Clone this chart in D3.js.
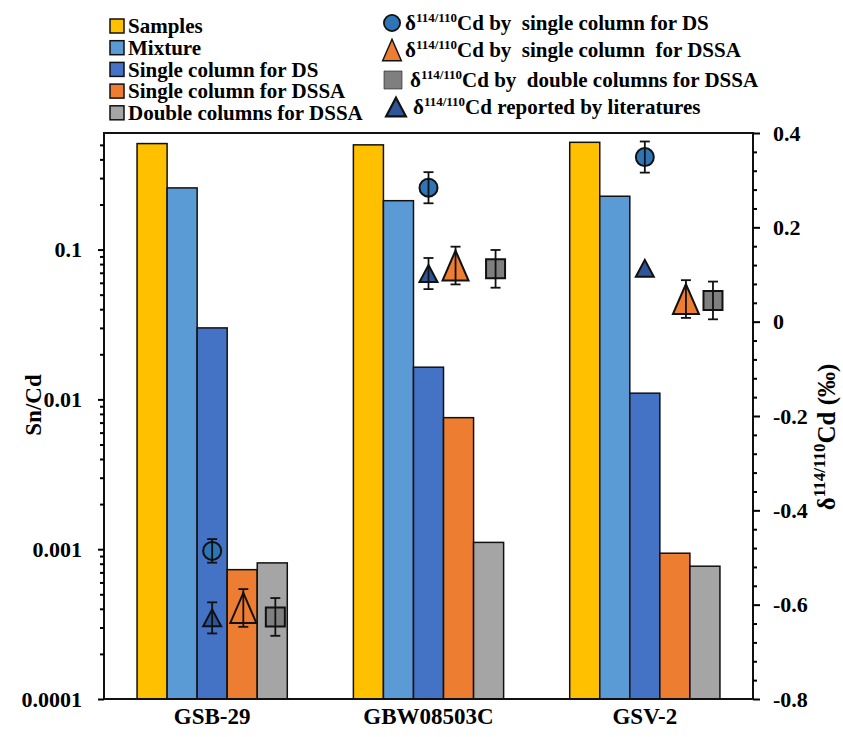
<!DOCTYPE html>
<html>
<head>
<meta charset="utf-8">
<script src="https://cdn.jsdelivr.net/npm/d3@7"></script>
<style>
body { margin: 0; background: #fff; }
svg text { font-family: "Liberation Serif", "DejaVu Serif", "Noto Serif", serif !important; font-weight: bold; }
</style>
</head>
<body>
<svg id="chart"></svg>
<script>
// ---- data ----
const categories = ["GSB-29", "GBW08503C", "GSV-2"];
const barNames = ["Samples", "Mixture", "Single column for DS", "Single column for DSSA", "Double columns for DSSA"];

// Sn/Cd (left, log axis)
const samples    = [0.51, 0.50, 0.52];
const mixture    = [0.258, 0.212, 0.227];
const singleDS   = [0.030, 0.0164, 0.0110];
const singleDSSA = [0.00073, 0.00755, 0.00094];
const doubleDSSA = [0.00081, 0.00111, 0.00077];

// delta114/110Cd (right axis), x in category units
const dsDelta    = [-0.486, 0.284, 0.349];
const dsErr      = [0.025, 0.033, 0.033];
const dsX        = [0.5, 1.5, 2.5];
const dssaDelta  = [-0.607, 0.119, 0.048];
const dssaErr    = [0.04, 0.04, 0.04];
const dssaX      = [0.644, 1.625, 2.69];
const dblDelta   = [-0.626, 0.112, 0.045];
const dblErr     = [0.04, 0.04, 0.04];
const dblX       = [0.792, 1.81, 2.815];
const litDelta   = [-0.628, 0.102, 0.113];
const litErr     = [0.033, 0.033, null];
const litX       = [0.5, 1.5, 2.5];

const leftTicks  = [0.0001, 0.001, 0.01, 0.1];
const rightTicks = [-0.8, -0.6, -0.4, -0.2, 0, 0.2, 0.4];

const barColors = ["#FFC000", "#5B9BD5", "#4472C4", "#ED7D31", "#A5A5A5"];

const margin = {top: 133, right: 90, bottom: 38, left: 104},
    svgWidth = 843,
    svgHeight = 737,
    width = svgWidth - margin.left - margin.right,
    height = svgHeight - margin.top - margin.bottom;

const chart = d3.select("#chart")
    .attr("width", svgWidth)
    .attr("height", svgHeight);

const inner = chart.append("g")
    .attr("transform", "translate(" + margin.left + "," + margin.top + ")");

// scales
const x0 = d3.scaleBand().domain(categories).range([0, width])
    .paddingInner(66 / 216).paddingOuter(33 / 216);
const x1 = d3.scaleBand().domain(d3.range(barNames.length)).range([0, x0.bandwidth()]);
const yLeft = d3.scaleLog().domain([0.0001, 0.6]).range([height, 0]);
const yRight = d3.scaleLinear().domain([-0.8, 0.4]).range([height, 0]);
const xDelta = d3.scaleLinear().domain([0, 3]).range([0, width]);

// bars
const barSeries = [samples, mixture, singleDS, singleDSSA, doubleDSSA];
const barData = [];
categories.forEach(function(c, i) {
    barSeries.forEach(function(s, j) {
        barData.push({cat: c, idx: j, value: s[i]});
    });
});

inner.append("g").selectAll("rect")
    .data(barData)
    .enter()
    .append("rect")
    .attr("x", d => x0(d.cat) + x1(d.idx))
    .attr("width", x1.bandwidth())
    .attr("y", d => yLeft(d.value))
    .attr("height", d => height - yLeft(d.value))
    .attr("fill", d => barColors[d.idx])
    .attr("stroke", "#111")
    .attr("stroke-width", 1.5);

// marker shapes
function markerPath(type) {
    if (type == "circle") return d3.symbol(d3.symbolCircle, Math.PI * 9 * 9)();
    if (type == "square") return "M-9.5,-9.5H9.5V9.5H-9.5Z";
    if (type == "bigTri") return "M0,-15L13,15L-13,15Z";
    return "M0,-8.5L9,8.5L-9,8.5Z";
}

const markerSeries = [
    {values: dsDelta,   err: dsErr,   xs: dsX,   type: "circle", fill: "#2E75B6"},
    {values: litDelta,  err: litErr,  xs: litX,  type: "smallTri", fill: "#2F5597"},
    {values: dssaDelta, err: dssaErr, xs: dssaX, type: "bigTri", fill: "#ED7D31"},
    {values: dblDelta,  err: dblErr,  xs: dblX,  type: "square", fill: "#7F7F7F"}
];

markerSeries.forEach(function(s) {
    const pts = s.values.map((v, i) => ({v: v, e: s.err[i], x: s.xs[i]}));
    const g = inner.append("g");
    g.selectAll("path.marker")
        .data(pts)
        .enter()
        .append("path")
        .attr("class", "marker")
        .attr("transform", d => "translate(" + xDelta(d.x) + "," + yRight(d.v) + ")")
        .attr("d", markerPath(s.type))
        .attr("fill", s.fill)
        .attr("stroke", "#111")
        .attr("stroke-width", 2);

    // error bars drawn over the markers
    const eb = g.selectAll("g.err")
        .data(pts.filter(d => d.e != null))
        .enter()
        .append("g")
        .attr("class", "err")
        .attr("stroke", "#111")
        .attr("stroke-width", 1.8);
    eb.append("line")
        .attr("x1", d => xDelta(d.x)).attr("x2", d => xDelta(d.x))
        .attr("y1", d => yRight(d.v + d.e)).attr("y2", d => yRight(d.v - d.e));
    eb.append("line")
        .attr("x1", d => xDelta(d.x) - 5).attr("x2", d => xDelta(d.x) + 5)
        .attr("y1", d => yRight(d.v + d.e)).attr("y2", d => yRight(d.v + d.e));
    eb.append("line")
        .attr("x1", d => xDelta(d.x) - 5).attr("x2", d => xDelta(d.x) + 5)
        .attr("y1", d => yRight(d.v - d.e)).attr("y2", d => yRight(d.v - d.e));
});

// frame
inner.append("rect")
    .attr("width", width).attr("height", height)
    .attr("fill", "none").attr("stroke", "#111").attr("stroke-width", 2);

// left axis (log) with minor ticks
const leftMinor = [];
leftTicks.forEach(function(t) {
    for (let k = 2; k <= 9; k++) if (t * k < 0.6) leftMinor.push(t * k);
});
inner.append("g")
    .call(d3.axisLeft(yLeft).tickValues(leftMinor).tickSize(4).tickSizeOuter(0).tickFormat(""))
    .call(g => g.select(".domain").remove())
    .selectAll("line").attr("stroke-width", 2);
const yAxisL = inner.append("g")
    .call(d3.axisLeft(yLeft).tickValues(leftTicks).tickSize(6).tickSizeOuter(0).tickPadding(16)
        .tickFormat(d => String(d)));
yAxisL.select(".domain").remove();
yAxisL.selectAll("line").attr("stroke-width", 2);
yAxisL.selectAll("text").style("font-size", "22px").attr("fill", "#000");

// right axis
const rightMinor = d3.range(-0.8, 0.4001, 0.04).filter(v => Math.abs(v * 5 - Math.round(v * 5)) > 0.01);
inner.append("g")
    .attr("transform", "translate(" + width + ",0)")
    .call(d3.axisRight(yRight).tickValues(rightMinor).tickSize(4).tickSizeOuter(0).tickFormat(""))
    .call(g => g.select(".domain").remove())
    .selectAll("line").attr("stroke-width", 2);
const yAxisR = inner.append("g")
    .attr("transform", "translate(" + width + ",0)")
    .call(d3.axisRight(yRight).tickValues(rightTicks).tickSize(7).tickSizeOuter(0).tickPadding(13)
        .tickFormat(d => String(+d.toFixed(1))));
yAxisR.select(".domain").remove();
yAxisR.selectAll("line").attr("stroke-width", 2);
yAxisR.selectAll("text").style("font-size", "22px").attr("fill", "#000");

// category labels
inner.append("g").selectAll("text")
    .data(categories)
    .enter()
    .append("text")
    .attr("x", d => x0(d) + x0.bandwidth() / 2)
    .attr("y", height + 25)
    .attr("text-anchor", "middle")
    .style("font-size", "23px")
    .text(d => d);

// axis titles
chart.append("text")
    .attr("transform", "translate(33,405) rotate(-90)")
    .attr("text-anchor", "middle")
    .attr("dy", "0.35em")
    .style("font-size", "23px")
    .text("Sn/Cd");

const rt = chart.append("text")
    .attr("transform", "translate(826,437) rotate(-90)")
    .attr("text-anchor", "middle")
    .attr("dy", "0.35em")
    .style("font-size", "25px");
rt.append("tspan").text("δ");
rt.append("tspan").attr("dy", -10).style("font-size", "17px").text("114/110");
rt.append("tspan").attr("dy", 10).text("Cd (‰)");

// left legend
const legL = chart.append("g");
const legLRows = legL.selectAll("g")
    .data(barNames)
    .enter()
    .append("g")
    .attr("transform", (d, i) => "translate(110," + (26 + i * 21.7) + ")");
legLRows.append("rect")
    .attr("x", 0).attr("y", -7).attr("width", 14).attr("height", 14)
    .attr("fill", (d, i) => barColors[i])
    .attr("stroke", "#111").attr("stroke-width", 1.5);
legLRows.append("text")
    .attr("x", 18).attr("dy", "0.35em")
    .style("font-size", "21px")
    .text(d => d);

// right legend
const legRItems = [
    {type: "circle", fill: "#2E75B6", mx: 392, tx: 405, y: 23, scale: 0.9, label: "by  single column for DS"},
    {type: "bigTri", fill: "#ED7D31", mx: 392, tx: 405, y: 50, scale: 0.72, label: "by  single column  for DSSA"},
    {type: "square", fill: "#7F7F7F", mx: 393, tx: 410, y: 80, scale: 0.95, label: "by  double columns for DSSA"},
    {type: "smallTri", fill: "#2F5597", mx: 396, tx: 413, y: 107, scale: 1.1, label: "reported by literatures"}
];
const legR = chart.append("g");
legRItems.forEach(function(it) {
    legR.append("path")
        .attr("transform", "translate(" + it.mx + "," + it.y + ") scale(" + it.scale + ")")
        .attr("d", markerPath(it.type))
        .attr("fill", it.fill)
        .attr("stroke", "#111")
        .attr("stroke-width", it.type == "square" ? 0.6 : 2);
    const t = legR.append("text")
        .attr("x", it.tx).attr("y", it.y).attr("dy", "0.35em")
        .style("font-size", "21px")
        .style("white-space", "pre");
    t.append("tspan").text("δ");
    t.append("tspan").attr("dy", -8).style("font-size", "13px").text("114/110");
    t.append("tspan").attr("dy", 8).text("Cd " + it.label);
});
</script>
</body>
</html>
